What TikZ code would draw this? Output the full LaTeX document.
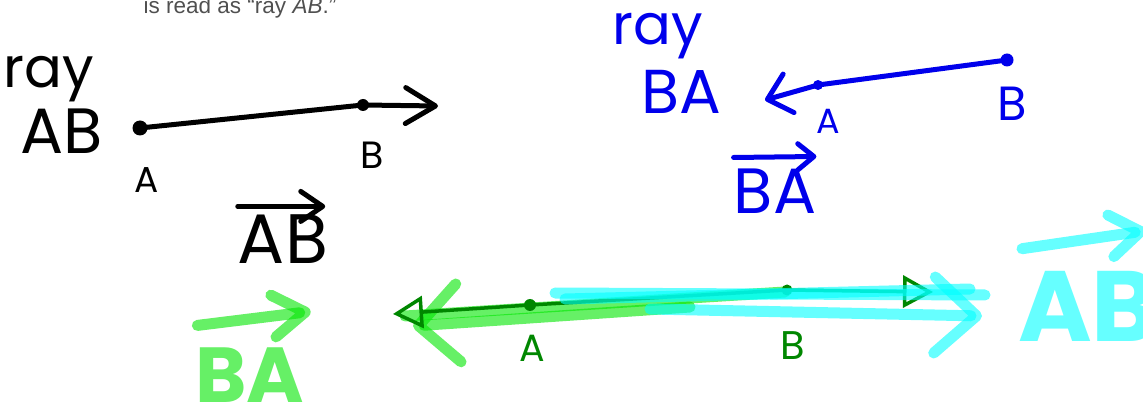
\documentclass[tikz,border=0pt]{standalone}
\usepackage{fontspec}
\setmainfont{Liberation Sans}
\newfontfamily\handfont{Poppins}
\usetikzlibrary{positioning,arrows.meta}
\definecolor{inkblue}{RGB}{0,0,235}
\definecolor{inkgreen}{RGB}{0,135,0}
\definecolor{hlgreen}{RGB}{0,230,0}
\definecolor{hlcyan}{RGB}{0,255,255}
\definecolor{printgray}{RGB}{80,80,80}
\tikzset{
  pen/.style={line width=5pt,line cap=round,line join=round},
  marker/.style={line width=11pt,line cap=round,line join=round,opacity=0.6},
  dot/.style={circle,fill,inner sep=0pt,minimum size=12pt},
  hand/.style={inner sep=0pt,align=left},
  barb/.style={-{Straight Barb[round,length=#1]}},
  barb/.default={26pt},
  openhead/.style={{Triangle[open,length=30pt,width=32pt]}-{Triangle[open,length=30pt,width=32pt]}}
}

\begin{document}
\begin{tikzpicture}[x=1pt,y=-1pt]
  \useasboundingbox (0,0) rectangle (1143,403);
  \node[anchor=base,text=printgray,font=\fontsize{22.5}{22.5}\selectfont,inner sep=0pt] (cap) at (240,14) {is read as “ray \textit{AB}.”};

  % black: ray AB
  \node[hand,font=\handfont\fontsize{56}{56}\selectfont] (kray) at (49,79) {ray};
  \node[hand,font=\handfont\fontsize{64}{64}\selectfont] (kname) at (62,131) {AB};
  \node[dot,minimum size=15pt] (kA) at (140,128) {};
  \node[dot] (kB) at (363,105) {};
  \coordinate (kend) at (438,106);
  \draw[pen,barb={30pt,width=36pt}] (kA.center) -- (kB.center) -- (kend);
  \node[hand,font=\handfont\fontsize{36}{36}\selectfont] (kAlab) at (147,180) {A};
  \node[hand,font=\handfont\fontsize{38}{38}\selectfont] (kBlab) at (372,155) {B};
  \node[hand,font=\handfont\fontsize{70}{70}\selectfont] (ksym) at (283,239) {AB};
  \draw[pen,barb={22pt,width=30pt}] ([yshift=8pt]ksym.north west) -- ([xshift=-3pt,yshift=8pt]ksym.north east);

  % blue: ray BA
  \begin{scope}[inkblue]
    \node[hand,font=\handfont\fontsize{56}{56}\selectfont] (bray) at (658,36) {ray};
    \node[hand,font=\handfont\fontsize{62}{62}\selectfont] (bname) at (681,92) {BA};
    \node[dot,minimum size=13pt] (bB) at (1007,60) {};
    \node[dot,minimum size=10pt] (bA) at (818,85) {};
    \coordinate (bend) at (765,100);
    \draw[pen,barb={22pt,width=40pt}] (bB.center) -- (bA.center) -- (bend);
    \node[hand,font=\handfont\fontsize{35}{35}\selectfont] (bAlab) at (828,121) {A};
    \node[hand,font=\handfont\fontsize{48}{48}\selectfont] (bBlab) at (1012,104) {B};
    \node[hand,font=\handfont\fontsize{64}{64}\selectfont] (bsym) at (775,191) {BA};
    \draw[pen,barb={16pt,width=26pt}] ([yshift=11pt]bsym.north west) -- ([yshift=12pt]bsym.north east);
  \end{scope}

  % green: the line through A and B
  \coordinate (gL) at (393,314);
  \coordinate (gR) at (933,292);
  \coordinate (lgR) at (785,292);
  \coordinate (lgL) at (405,316);
  \coordinate (lgS) at (690,307);
  \coordinate (lgT) at (413,326);
  \draw[marker,hlgreen] (lgR) -- (lgL);
  \draw[marker,hlgreen,barb={40pt,width=78pt}] (lgS) -- (lgT);
  \node[dot,inkgreen] (gA) at (530,305) {};
  \node[dot,inkgreen,minimum size=11pt] (gB) at (787,290) {};
  \draw[pen,inkgreen,line width=3.5pt,openhead] (gL) -- (gA.center) -- (gB.center) -- (gR);
  \node[hand,inkgreen,font=\handfont\fontsize{38}{38}\selectfont] (gAlab) at (532,348) {A};
  \node[hand,inkgreen,font=\handfont\fontsize{40}{40}\selectfont] (gBlab) at (793,346) {B};

  % cyan strokes over the line
  \coordinate (cS1) at (555,293);
  \coordinate (cE1) at (985,295);
  \coordinate (cS2) at (565,299);
  \coordinate (cE2) at (970,289);
  \coordinate (cS3) at (650,309);
  \coordinate (cE3) at (982,316);
  \draw[marker,hlcyan] (cS1) -- (cE1);
  \draw[marker,hlcyan] (cS2) -- (cE2);
  \draw[marker,hlcyan,barb={42pt,width=76pt}] (cS3) -- (cE3);

  % big marker names
  \node[hand,text=hlgreen,text opacity=0.6,font=\handfont\bfseries\fontsize{78}{78}\selectfont] (gsym) at (250,375) {BA};
  \draw[marker,hlgreen,barb={32pt,width=42pt}] ([xshift=2pt,yshift=22pt]gsym.north west) -- ([xshift=6pt,yshift=36pt]gsym.north east);
  \node[hand,text=hlcyan,text opacity=0.6,font=\handfont\bfseries\fontsize{100}{100}\selectfont] (csym) at (1088,306) {AB};
  \draw[marker,hlcyan,barb={30pt,width=42pt}] ([xshift=4pt,yshift=22pt]csym.north west) -- ([xshift=-12pt,yshift=40pt]csym.north east);
\end{tikzpicture}
\end{document}
